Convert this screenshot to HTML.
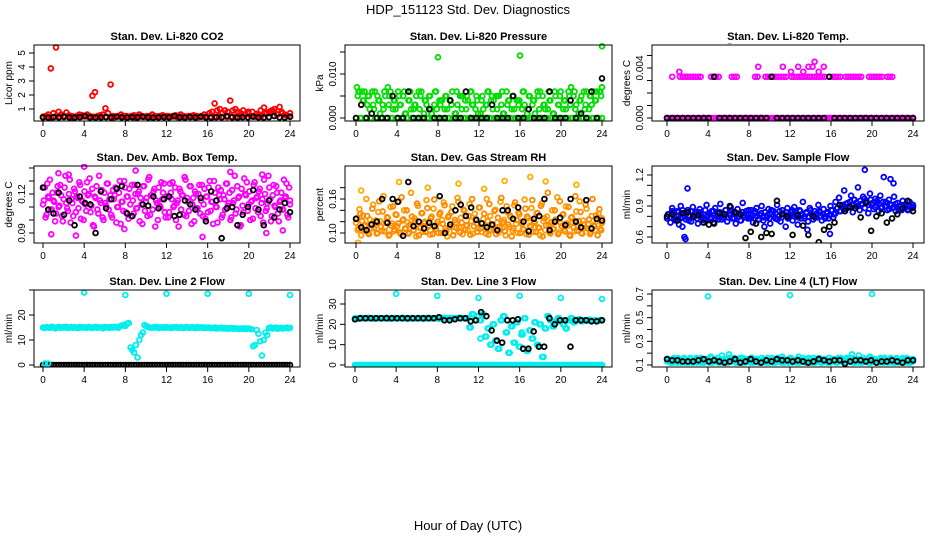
<!DOCTYPE html>
<html><head><meta charset="utf-8">
<style>
html,body{margin:0;padding:0;background:#fff;}
svg{display:block;font-family:"Liberation Sans",sans-serif;}
</style></head>
<body>
<svg id="chart" width="936" height="540" viewBox="0 0 936 540">
<text x="468" y="14" text-anchor="middle" font-size="13">HDP_151123  Std. Dev. Diagnostics</text>
<text x="468" y="530" text-anchor="middle" font-size="13">Hour of Day (UTC)</text>
</svg>
<script>
// ---------- data ----------
const xTicks = [0,4,8,12,16,20,24];
const co2Red = [0.45,0.5,0.6,3.9,0.7,5.4,0.8,0.6,0.5,0.75,0.55,0.5,0.45,0.5,0.6,0.55,0.5,0.6,0.5,1.95,2.2,0.5,0.55,0.6,
1.05,0.7,2.75,0.5,0.45,0.5,0.6,0.5,0.5,0.45,0.5,0.55,0.5,0.6,0.5,0.45,0.5,0.5,0.6,0.5,0.45,0.5,0.55,0.5,
0.5,0.45,0.5,0.55,0.5,0.6,0.5,0.45,0.5,0.5,0.55,0.5,0.45,0.5,0.6,0.5,0.7,0.8,1.4,0.9,1.0,0.7,0.9,0.8,
1.6,0.9,1.0,0.8,0.7,0.9,0.6,0.8,0.5,0.5,0.45,0.6,0.5,1.1,0.7,0.8,0.9,1.0,0.6,1.15,0.7,0.6,0.5,0.45];
const co2Base = [0.42,0.45,0.4,0.48,0.44,0.42,0.46,0.4,0.45,0.43,0.47,0.41,0.44,0.46,0.42,0.45,0.43,0.4,0.47,0.44,0.42,0.45,0.41,0.46,
0.43,0.44,0.42,0.47,0.45,0.41,0.44,0.46,0.42,0.45,0.43,0.48,0.44,0.42,0.46,0.41,0.45,0.43,0.47,0.44,0.42,0.46,0.45,0.43,
0.6,0.7,0.8,0.65,0.9,0.75,0.7,0.85,0.6,0.8,0.55,0.7];
const co2Black = [0.4,0.38,0.42,0.4,0.45,0.4,0.38,0.42,0.5,0.4,0.38,0.4,0.42,0.4,0.45,0.4,0.38,0.42,0.4,0.45,0.4,0.38,0.4,0.42,
0.4,0.5,0.4,0.38,0.42,0.4,0.45,0.4,0.38,0.42,0.4,0.5,0.4,0.38,0.42,0.4,0.45,0.4,0.38,0.42,0.5,0.4,0.38,0.45];

const pressGreen = [0,0.005,0.006,0,0.004,0.006,0,0.005,0.002,0,0.003,0.006,0,0.004,0.001,0,0.002,0.005,0,0.003,0.006,0,0.004,0.002,
0,0.005,0.003,0,0.006,0.001,0,0.004,0.002,0,0.003,0.005,0,0.002,0.006,0,0.004,0.003,0,0.005,0.001,0,0.006,0.002,
0,0.003,0.004,0,0.005,0.002,0,0.004,0.006,0,0.001,0.003,0,0.005,0.005,0,0.002,0.004,0,0.006,0.003,0,0.005,0.001,
0,0.004,0.002,0,0.003,0.006,0,0.005,0.004,0,0.002,0.005,0,0.006,0.001,0,0.003,0.004,0,0.005,0.002,0,0.004,0.004,
0,0.006,0.003,0,0.002,0.005,0,0.004,0.001,0,0.005,0.006,0,0.003,0.002,0,0.006,0.004,0,0.001,0.005,0,0.003,0.006,
0,0.004,0.002,0,0.005,0.007,0,0.006,0.003,0,0.004,0.005,0,0.002,0.006,0,0.005,0.003,0,0.004,0.006,0,0.006,0.007];
const pressGreenB = pressGreen.slice().reverse();
const pressBlack = [0,0.003,0,0.001,0,0,0,0.005,0,0,0.006,0,0,0,0.002,0,0,0,0.004,0,0,0.006,0,0,
0,0,0.003,0,0,0,0.005,0,0,0.002,0,0,0,0.006,0,0,0,0.004,0,0.001,0,0.006,0,0.009];
const pressOutHours = [8,16,24];
const pressOutVals = [0.0138,0.0142,0.0163];

const tempBase = [0,0,0,0,0,0,0,0,0,0,0,0,0,0,0,0,0,0,0,0,0,0,0,0,0,0,0,0,0,0,0,0,0,0,0,0,0,0,0,0,0,0,0,0,0,0,0,0,
0,0,0,0,0,0,0,0,0,0,0,0,0,0,0,0,0,0,0,0,0,0,0,0,0,0,0,0,0,0,0,0,0,0,0,0,0,0,0,0,0,0,0,0,0,0,0,0];
const tempBand = [0,0,0.0033,0,0,0.0033,0.0033,0.0033,0.0033,0.0033,0.0033,0.0033,0.0033,0.0033,0,0,0,0.0033,0.0033,0.0033,0.0033,0,0,0,
0,0.0033,0.0033,0.0033,0,0,0,0,0,0,0.0033,0.0033,0,0,0.0033,0.0033,0.0033,0.0033,0.0033,0.0033,0.0033,0.0033,0.0033,0,
0.0033,0.0033,0.0033,0.0033,0.0033,0.0033,0.0033,0.0033,0.0033,0.0033,0.0033,0.0033,0.0033,0.0033,0,0,0.0033,0.0033,0.0033,0.0033,0,0.0033,0.0033,0.0033,
0.0033,0.0033,0.0033,0.0033,0,0,0.0033,0.0033,0.0033,0.0033,0.0033,0.0033,0,0.0033,0.0033,0.0033,0,0,0,0,0,0,0,0];
const tempOutHours = [1.2,6.1,8.9,11.3,12.1,12.8,13.3,13.8,14.2,14.4,14.8,15.3];
const tempOutVals = [0.0037,0.0062,0.0041,0.0041,0.0037,0.0041,0.0037,0.0041,0.0041,0.0045,0.0037,0.0041];
const tempBlack = [0,0,0,0,0,0,0,0,0,0.0033,0,0,0,0,0,0,0,0,0,0,0.0033,0,0,0,0,0,0,0,0,0,0,0.0033,0,0,0,0,0,0,0,0,0,0,0,0,0,0,0,0];

const ambMag = [0.112,0.125,0.104,0.118,0.131,0.108,0.115,0.099,0.121,0.110,0.127,0.103,0.116,0.134,0.109,0.120,0.098,0.113,0.124,0.106,0.117,0.129,0.101,0.114,
0.122,0.107,0.119,0.132,0.111,0.096,0.118,0.126,0.105,0.115,0.123,0.100,0.113,0.128,0.108,0.119,0.102,0.116,0.125,0.110,0.121,0.097,0.114,0.130,
0.106,0.118,0.124,0.103,0.115,0.127,0.109,0.120,0.099,0.112,0.126,0.107,0.117,0.131,0.104,0.119,0.122,0.095,0.113,0.125,0.110,0.116,0.128,0.102,
0.118,0.106,0.121,0.129,0.111,0.100,0.115,0.124,0.108,0.119,0.133,0.103,0.114,0.126,0.097,0.117,0.122,0.109,0.120,0.105,0.127,0.112,0.101,0.118,
0.125,0.107,0.114,0.130,0.110,0.098,0.119,0.123,0.104,0.116,0.128,0.111,0.121,0.102,0.113,0.134,0.108,0.117,0.095,0.124,0.106,0.120,0.129,0.112,
0.100,0.115,0.127,0.109,0.118,0.122,0.103,0.116,0.131,0.107,0.113,0.125,0.099,0.119,0.111,0.126,0.105,0.114,0.121,0.108,0.117,0.128,0.102,0.115];
const ambMagB = ambMag.slice().reverse();
const ambOutHours = [1.5,2.5,4.0,0.8,3.2,15.5,7.9,21.3,21.7,23.3,9.0,18.2];
const ambOutVals = [0.136,0.135,0.141,0.089,0.088,0.087,0.093,0.135,0.090,0.092,0.138,0.137];
const ambBlack = [0.125,0.108,0.105,0.121,0.104,0.115,0.096,0.118,0.113,0.112,0.090,0.122,0.109,0.116,0.124,0.126,0.105,0.103,0.127,0.112,0.111,0.118,0.109,0.116,
0.118,0.103,0.104,0.115,0.112,0.108,0.117,0.099,0.122,0.115,0.086,0.109,0.110,0.096,0.104,0.110,0.123,0.108,0.096,0.115,0.102,0.108,0.113,0.106];

const rhOrange = [0.118,0.105,0.142,0.096,0.131,0.112,0.160,0.101,0.124,0.108,0.150,0.115,0.099,0.137,0.121,0.104,0.165,0.110,0.128,0.095,0.146,0.117,0.103,0.133,
0.112,0.156,0.098,0.122,0.140,0.107,0.119,0.101,0.171,0.114,0.126,0.094,0.148,0.109,0.135,0.102,0.120,0.158,0.111,0.097,0.129,0.143,0.106,0.116,
0.100,0.136,0.123,0.154,0.108,0.094,0.131,0.115,0.147,0.103,0.119,0.162,0.110,0.127,0.098,0.139,0.113,0.105,0.151,0.121,0.099,0.134,0.117,0.108,
0.145,0.102,0.125,0.112,0.160,0.097,0.130,0.114,0.106,0.141,0.118,0.101,0.155,0.109,0.123,0.096,0.137,0.111,0.128,0.104,0.149,0.116,0.100,0.133,
0.120,0.107,0.159,0.098,0.126,0.113,0.144,0.102,0.118,0.135,0.110,0.096,0.152,0.121,0.105,0.129,0.115,0.099,0.140,0.108,0.124,0.163,0.101,0.117,
0.132,0.106,0.147,0.113,0.097,0.127,0.119,0.103,0.138,0.111,0.156,0.100,0.122,0.109,0.143,0.115,0.098,0.130,0.114,0.105,0.121,0.134,0.108,0.126];
const rhOrangeB = rhOrange.slice().reverse();
const rhOutHours = [0.2,4.2,10.0,14.5,18.5,17.0,21.5,0.5,7.0,12.5];
const rhOutVals = [0.083,0.190,0.187,0.192,0.191,0.199,0.185,0.175,0.180,0.178];
const rhBlack = [0.125,0.110,0.105,0.115,0.120,0.160,0.118,0.160,0.155,0.095,0.190,0.112,0.120,0.108,0.118,0.112,0.165,0.100,0.115,0.140,0.150,0.130,0.145,0.123,
0.117,0.110,0.115,0.105,0.140,0.140,0.125,0.145,0.120,0.103,0.125,0.130,0.160,0.105,0.120,0.127,0.114,0.160,0.120,0.110,0.158,0.108,0.125,0.122];

const flowBlue = [0.78,0.82,0.74,0.88,0.80,0.76,0.85,0.72,0.90,0.79,0.83,0.77,0.86,0.81,0.75,0.89,0.80,0.84,0.73,0.87,0.79,0.82,0.76,0.91,
0.81,0.78,0.85,0.74,0.88,0.80,0.77,0.92,0.83,0.79,0.86,0.75,0.82,0.89,0.78,0.84,0.73,0.87,0.80,0.76,0.93,0.81,0.85,0.78,
0.79,0.86,0.74,0.83,0.88,0.77,0.81,0.90,0.76,0.84,0.79,0.87,0.73,0.82,0.85,0.78,0.91,0.80,0.75,0.86,0.82,0.70,0.88,0.79,
0.84,0.76,0.89,0.81,0.72,0.86,0.78,0.94,0.80,0.83,0.75,0.88,0.82,0.77,0.85,0.79,0.91,0.84,0.76,0.87,0.80,0.83,0.78,0.90,
0.86,0.82,0.94,0.88,0.98,0.85,0.91,1.05,0.87,0.93,0.89,1.00,0.84,0.96,0.90,1.08,0.86,0.92,0.99,0.88,0.95,0.83,1.02,0.91,
0.87,0.97,0.93,0.85,1.00,0.89,1.18,0.94,0.86,0.96,0.91,0.88,0.99,0.85,0.93,0.90,0.87,0.95,0.89,0.92,0.86,0.94,0.88,0.91];
const flowBlueB = [0.82,0.79,0.85,0.77,0.81,0.84,0.78,0.86,0.80,0.83,0.76,0.85,0.79,0.82,0.78,0.84,0.81,0.77,0.86,0.80,0.83,0.79,0.85,0.78,
0.80,0.84,0.77,0.82,0.86,0.79,0.81,0.85,0.78,0.83,0.80,0.76,0.84,0.79,0.82,0.86,0.78,0.81,0.85,0.80,0.77,0.83,0.79,0.84,
0.81,0.78,0.86,0.80,0.83,0.77,0.85,0.79,0.82,0.84,0.78,0.81,0.86,0.80,0.83,0.79,0.85,0.82,0.78,0.84,0.80,0.86,0.81,0.79,
0.83,0.85,0.80,0.82,0.78,0.84,0.81,0.86,0.79,0.83,0.88,0.85,0.90,0.87,0.92,0.89,0.94,0.91,0.96,0.93,0.90,0.95,0.92,0.97,
0.94,0.91,0.96,0.93,0.89,0.95,0.92,0.88,0.94,0.90,0.93,0.87,0.91,0.89,0.92,0.88,0.90,0.86,0.91,0.89,0.87,0.90,0.88,0.89];
const flowOutHours = [1.7,1.8,2.0,19.3,21.8,9.5,15.9,13.7,1.5,22.1];
const flowOutVals = [0.60,0.58,1.07,1.25,1.16,0.70,0.63,0.67,0.70,1.12];
const flowBlack = [0.80,0.82,0.76,0.83,0.84,0.80,0.81,0.74,0.72,0.73,0.83,0.82,0.90,0.84,0.82,0.59,0.65,0.73,0.60,0.64,0.63,0.95,0.82,0.80,
0.62,0.81,0.71,0.62,0.80,0.55,0.67,0.70,0.74,0.91,0.85,0.89,0.88,0.79,0.93,0.66,0.80,0.83,0.74,0.78,0.82,0.88,0.95,0.85];

const line2Cyan = [15,14.8,15.2,15,14.9,15.3,15.1,14.7,15,15.2,14.9,15.1,15,15.3,14.8,15,15.2,14.9,15.1,15,14.8,15.2,15,15.1,
15,14.9,15.2,15.1,14.8,15,15.3,14.9,15.1,15,14.7,15.2,15,15.1,14.9,15.2,15,15.3,15.1,14.9,15.5,15.8,16,15.6,
16.5,16.8,7,6,5,8,3,10,12,13,16,15.5,15.2,15,14.9,15.1,15,15.2,14.8,15,15.1,14.9,15.2,15,
15,14.8,15.1,15,15.2,14.9,15,15.1,14.8,15,15.2,15,14.9,15.1,15,14.8,15.2,14.9,15,15.1,14.8,15,
14.9,15,14.7,14.8,15,14.6,14.8,14.7,14.9,14.6,14.8,14.5,14.7,14.6,14.8,14.5,14.7,14.6,14.4,14.6,14.5,14.7,14.4,14.6,
14.5,14.3,7.5,8,14,12.5,9.5,3.8,10,13,12,14.8,15,14.6,14.8,15,14.5,14.7,14.9,14.6,14.8,15,14.7,14.9];
const line2Zero = [0,0,0,0,0,0,0,0,0,0,0,0,0,0,0,0,0,0,0,0,0,0,0,0,0,0,0,0,0,0,0,0,0,0,0,0,0,0,0,0,0,0,0,0,0,0,0,0,
0,0,0,0,0,0,0,0,0,0,0,0,0,0,0,0,0,0,0,0,0,0,0,0,0,0,0,0,0,0,0,0,0,0,0,0,0,0,0,0,0,0,0,0,0,0,0,0];
const line2OutHours = [4,8,12,16,20,24,0.2,0.5];
const line2OutVals = [29,28,28.5,28.5,28.5,28,0.6,0.6];

const line3Cyan = [23,22.8,23.1,23,22.9,23.2,23,22.8,23.1,23,22.9,23,23.2,22.8,23,23.1,22.9,23,23.2,23,22.8,23.1,23,22.9,
23,23.1,22.8,23,23.2,22.9,23,23.1,22.8,23,23.2,22.9,23,23.1,22.8,23,23.2,23,22.9,23.1,18.5,25,22,24,
22,25,14,18,10,20,12,8,22,24,16,6,19,11,21,9,15,23,7,17,13,21,10,20,
4,18,24,22,19,21,23,22,20,18,22,23,21,22,22.5,21.5,22,21.8,22.2,21.6,22,21.8,22.1,22];
const line3CyanB = line3Cyan.slice().reverse().reverse();
const line3Zero = [0,0,0,0,0,0,0,0,0,0,0,0,0,0,0,0,0,0,0,0,0,0,0,0,0,0,0,0,0,0,0,0,0,0,0,0,0,0,0,0,0,0,0,0,0,0,0,0,
0,0,0,0,0,0,0,0,0,0,0,0,0,0,0,0,0,0,0,0,0,0,0,0,0,0,0,0,0,0,0,0,0,0,0,0,0,0,0,0,0,0,0,0,0,0,0,0];
const line3OutHours = [4,8,12,16,20,24,12.2,16.2];
const line3OutVals = [35,34,33,34,33,32.5,13,16];
const line3Black = [22.5,23,23,23,23,23,23,23,23,23,23,23,23,23,23,23,23.5,22,22,22.5,23,23,21.5,22,
26,24,17,12,11,22,22,22.5,8,8,16.5,9,9,23,20,22,22,9,22,22,22,21.5,21.5,22];

const line4Cyan = [0.13,0.15,0.12,0.14,0.16,0.13,0.12,0.15,0.14,0.13,0.16,0.12,0.14,0.13,0.15,0.12,0.14,0.16,0.13,0.15,0.12,0.14,0.13,0.15,
0.14,0.12,0.16,0.13,0.15,0.14,0.12,0.13,0.18,0.14,0.12,0.15,0.19,0.13,0.14,0.16,0.12,0.15,0.13,0.14,0.16,0.12,0.13,0.15,
0.14,0.16,0.12,0.13,0.15,0.14,0.12,0.16,0.13,0.15,0.14,0.12,0.13,0.16,0.15,0.12,0.14,0.13,0.15,0.17,0.12,0.14,0.13,0.15,
0.16,0.12,0.14,0.13,0.15,0.12,0.14,0.16,0.13,0.15,0.12,0.14,0.13,0.16,0.12,0.15,0.14,0.13,0.12,0.15,0.14,0.13,0.16,0.12,
0.14,0.13,0.15,0.12,0.14,0.16,0.13,0.12,0.15,0.14,0.13,0.16,0.12,0.14,0.13,0.15,0.12,0.14,0.16,0.13,0.15,0.12,0.17,0.14,
0.13,0.15,0.12,0.14,0.16,0.13,0.12,0.15,0.14,0.13,0.16,0.12,0.14,0.13,0.15,0.12,0.14,0.16,0.13,0.15,0.12,0.14,0.13,0.15];
const line4CyanB = line4Cyan.slice().reverse();
const line4OutHours = [4,12,20];
const line4OutVals = [0.68,0.69,0.70];
const line4Black = [0.15,0.14,0.14,0.13,0.13,0.13,0.14,0.15,0.13,0.14,0.13,0.12,0.13,0.15,0.12,0.13,0.15,0.13,0.12,0.14,0.13,0.15,0.14,0.14,
0.13,0.14,0.13,0.12,0.13,0.15,0.14,0.13,0.14,0.14,0.11,0.13,0.14,0.14,0.13,0.14,0.12,0.13,0.13,0.14,0.13,0.12,0.14,0.14];

// ---------- rendering ----------
const svg = document.getElementById('chart');
const NS = 'http://www.w3.org/2000/svg';
function mk(tag, attrs, parent){const e=document.createElementNS(NS,tag);for(const k in attrs)e.setAttribute(k,attrs[k]);(parent||svg).appendChild(e);return e;}

const panels = [
 {key:'co2',title:'Stan. Dev. Li-820 CO2',ylab:'Licor ppm',box:[34,45,300,121],xr:[43,290],yd:[1,5],yp:[109,53],ticks:[1,2,3,4,5],labels:[1,2,3,4,5],fmt:v=>String(v),
  series:[[co2Red,'#ff0000'],[co2Base,'#ff0000'],[co2Black,'#000000']],outs:[]},
 {key:'pressure',title:'Stan. Dev. Li-820 Pressure',ylab:'kPa',box:[345,45,612,121],xr:[356,602],yd:[0,0.010],yp:[118,74],ticks:[0,0.005,0.010,0.015],labels:[0,0.010],fmt:v=>v.toFixed(3),
  series:[[pressGreen,'#00dd00'],[pressGreenB,'#00dd00',0.5],[pressBlack,'#000000']],outs:[[pressOutHours,pressOutVals,'#00dd00']]},
 {key:'temp',title:'Stan. Dev. Li-820 Temp.',ylab:'degrees C',box:[652,45,924,121],xr:[667,913],yd:[0,0.004],yp:[118,68],ticks:[0,0.001,0.002,0.003,0.004,0.005,0.006],labels:[0,0.004],fmt:v=>v.toFixed(3),
  series:[[tempBase,'#ff00ff'],[tempBand,'#ff00ff'],[tempBlack,'#000000']],outs:[[tempOutHours,tempOutVals,'#ff00ff']]},
 {key:'ambbox',title:'Stan. Dev. Amb. Box Temp.',ylab:'degrees C',box:[34,166,300,243],xr:[43,290],yd:[0.09,0.12],yp:[233,194],ticks:[0.09,0.10,0.11,0.12,0.13,0.14],labels:[0.09,0.12],fmt:v=>v.toFixed(2),
  series:[[ambMag,'#ff00ff'],[ambMagB,'#ff00ff',0.5],[ambBlack,'#000000']],outs:[[ambOutHours,ambOutVals,'#ff00ff']]},
 {key:'rh',title:'Stan. Dev. Gas Stream RH',ylab:'percent',box:[345,166,612,243],xr:[356,602],yd:[0.10,0.16],yp:[233,199],ticks:[0.10,0.12,0.14,0.16,0.18],labels:[0.10,0.16],fmt:v=>v.toFixed(2),
  series:[[rhOrange,'#ffa000'],[rhOrangeB,'#ff8800',0.5],[rhBlack,'#000000']],outs:[[rhOutHours,rhOutVals,'#ffb000']]},
 {key:'sampleflow',title:'Stan. Dev. Sample Flow',ylab:'ml/min',box:[652,166,924,243],xr:[667,913],yd:[0.6,1.2],yp:[237,175],ticks:[0.6,0.7,0.8,0.9,1.0,1.1,1.2],labels:[0.6,0.9,1.2],fmt:v=>v.toFixed(1),
  series:[[flowBlue,'#0000ff'],[flowBlueB,'#0000ff',0.5],[flowBlack,'#000000']],outs:[[flowOutHours,flowOutVals,'#0000ff']]},
 {key:'line2',title:'Stan. Dev. Line 2 Flow',ylab:'ml/min',box:[34,290,300,367],xr:[43,290],yd:[0,10],yp:[365,340],ticks:[0,10,20,30],labels:[0,10,20],fmt:v=>String(v),
  series:[[line2Cyan,'#00eeee'],[line2Zero,'#000000']],outs:[[line2OutHours,line2OutVals,'#00eeee']]},
 {key:'line3',title:'Stan. Dev. Line 3 Flow',ylab:'ml/min',box:[345,290,612,367],xr:[355,602],yd:[0,30],yp:[365,304],ticks:[0,10,20,30],labels:[0,10,20,30],fmt:v=>String(v),
  series:[[line3Cyan,'#00eeee'],[line3CyanB,'#00eeee',0.5],[line3Zero,'#00eeee'],[line3Zero,'#00eeee',0.5],[line3Black,'#000000']],outs:[[line3OutHours,line3OutVals,'#00eeee']]},
 {key:'line4',title:'Stan. Dev. Line 4 (LT) Flow',ylab:'ml/min',box:[652,290,924,367],xr:[667,913],yd:[0.1,0.7],yp:[365,294],ticks:[0.1,0.2,0.3,0.4,0.5,0.6,0.7],labels:[0.1,0.3,0.5,0.7],fmt:v=>v.toFixed(1),
  series:[[line4Cyan,'#00eeee'],[line4CyanB,'#00eeee',0.5],[line4Black,'#000000']],outs:[[line4OutHours,line4OutVals,'#00eeee']]}
];

panels.forEach(p=>{
  const [x0,y0,x1,y1]=p.box;
  const xs=h=>p.xr[0]+(p.xr[1]-p.xr[0])*h/24;
  const ys=v=>p.yp[0]+(p.yp[1]-p.yp[0])*(v-p.yd[0])/(p.yd[1]-p.yd[0]);
  const g=mk('g',{});
  
  
  const t=mk('text',{x:(x0+x1)/2,y:y0-5,'text-anchor':'middle','font-size':'11','font-weight':'bold'},g);
  t.textContent=p.title;
  
  
  const cid='clip-'+p.key;
  const cp=mk('clipPath',{id:cid},g);mk('rect',{x:x0,y:y0-2,width:x1-x0,height:y1-y0+2},cp);
  const pts=mk('g',{'clip-path':'url(#'+cid+')',fill:'none','stroke-width':'1.8'},g);
  
  
  p.series.forEach(([arr,col,off])=>{
    const n=arr.length; const o=off||0;
    arr.forEach((v,i)=>{
      const c=mk('circle',{cx:xs(Math.min(24,(i+o)*24/(n-1))),cy:ys(v),r:2.4,stroke:col},pts);
      
      
    });
  });
  p.outs.forEach(([hs,vs,col])=>{
    hs.forEach((h,i)=>{
      const c=mk('circle',{cx:xs(h),cy:ys(vs[i]),r:2.4,stroke:col},pts);
      
      
    });
  });
  const b=mk('rect',{x:x0,y:y0,width:x1-x0,height:y1-y0,fill:'none',stroke:'#000','stroke-width':'1'},g);
  
  
  const xa=mk('g',{},g);
  
  
  xTicks.forEach(h=>{
    mk('line',{x1:xs(h),x2:xs(h),y1:y1,y2:y1+5,stroke:'#000'},xa);
    const l=mk('text',{x:xs(h),y:y1+16,'text-anchor':'middle','font-size':'10'},xa);
    l.textContent=h;
    
    
  });
  const ya=mk('g',{},g);
  
  
  p.ticks.forEach(v=>{
    const y=ys(v); if(y<y0-1||y>y1+1) return;
    mk('line',{x1:x0-5,x2:x0,y1:y,y2:y,stroke:'#000'},ya);
  });
  p.labels.forEach(v=>{
    const y=ys(v);
    const l=mk('text',{x:x0-9,y:y,'text-anchor':'middle','font-size':'10',transform:'rotate(-90 '+(x0-9)+' '+y+')'},ya);
    l.textContent=p.fmt(v);
    
    
  });
  const yl=mk('text',{x:x0-22,y:(y0+y1)/2,'text-anchor':'middle','font-size':'10',transform:'rotate(-90 '+(x0-22)+' '+((y0+y1)/2)+')'},g);
  yl.textContent=p.ylab;
  
  
});
</script>
</body></html>
